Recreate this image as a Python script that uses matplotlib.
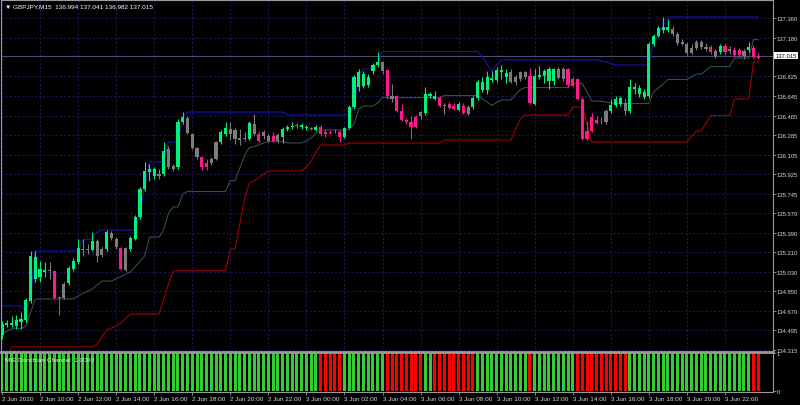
import matplotlib
matplotlib.use("Agg")
import matplotlib.pyplot as plt
import matplotlib.transforms as mtransforms
import numpy as np

# GBPJPY M15, 2 Jun 2020 08:00 .. 3 Jun 2020 23:45 (160 bars)
opens = [
    134.450, 134.541, 134.541, 134.532, 134.568, 134.587, 134.762, 134.964, 134.983, 135.028,
    135.047, 135.038, 134.799, 134.789, 134.927, 135.056, 135.120, 135.239, 135.230, 135.230,
    135.313, 135.184, 135.239, 135.386, 135.331, 135.248, 135.047, 135.239, 135.331, 135.534,
    135.790, 135.946, 135.909, 135.928, 135.928, 136.158, 136.002, 135.993, 136.405, 136.442,
    136.295, 136.167, 136.084, 136.029, 136.029, 136.066, 136.221, 136.295, 136.341, 136.332,
    136.258, 136.249, 136.249, 136.387, 136.295, 136.277, 136.277, 136.277, 136.231, 136.268,
    136.341, 136.359, 136.368, 136.359, 136.350, 136.341, 136.332, 136.359, 136.313, 136.313,
    136.313, 136.313, 136.268, 136.350, 136.543, 136.727, 136.736, 136.745, 136.874, 136.929,
    136.956, 136.883, 136.644, 136.644, 136.506, 136.424, 136.405, 136.451, 136.460, 136.488,
    136.644, 136.617, 136.626, 136.562, 136.571, 136.552, 136.516, 136.552, 136.479, 136.543,
    136.626, 136.700, 136.700, 136.791, 136.791, 136.865, 136.819, 136.865, 136.773, 136.800,
    136.819, 136.828, 136.571, 136.819, 136.828, 136.782, 136.782, 136.892, 136.800, 136.892,
    136.800, 136.800, 136.617, 136.323, 136.451, 136.424, 136.405, 136.405, 136.506, 136.562,
    136.571, 136.580, 136.506, 136.709, 136.663, 136.635, 136.644, 137.122, 137.195, 137.250,
    137.250, 137.260, 137.214, 137.140, 137.122, 137.039, 137.085, 137.140, 137.094, 137.094,
    137.058, 137.048, 137.104, 137.058, 137.067, 137.067, 137.012, 137.067, 137.085, 136.994,
]
highs = [
    134.578, 134.587, 134.624, 134.633, 134.660, 134.789, 135.221, 135.221, 135.129, 135.120,
    135.120, 135.047, 134.808, 134.936, 135.083, 135.156, 135.331, 135.331, 135.285, 135.395,
    135.331, 135.258, 135.414, 135.405, 135.349, 135.258, 135.258, 135.359, 135.552, 135.809,
    136.038, 136.020, 135.993, 135.974, 136.221, 136.185, 136.020, 136.433, 136.497, 136.460,
    136.304, 136.176, 136.093, 136.066, 136.084, 136.231, 136.332, 136.405, 136.405, 136.350,
    136.341, 136.313, 136.415, 136.479, 136.323, 136.332, 136.295, 136.313, 136.304, 136.359,
    136.378, 136.405, 136.396, 136.396, 136.378, 136.359, 136.378, 136.378, 136.341, 136.332,
    136.341, 136.332, 136.359, 136.562, 136.837, 136.892, 136.874, 136.846, 136.947, 137.048,
    136.965, 136.892, 136.754, 136.653, 136.571, 136.442, 136.460, 136.470, 136.506, 136.727,
    136.681, 136.690, 136.644, 136.580, 136.589, 136.580, 136.589, 136.580, 136.562, 136.644,
    136.791, 136.819, 136.874, 136.874, 136.910, 136.929, 136.892, 136.892, 136.837, 136.874,
    136.874, 136.901, 136.892, 136.920, 136.892, 136.910, 136.901, 136.910, 136.910, 136.901,
    136.819, 136.810, 136.635, 136.415, 136.488, 136.460, 136.451, 136.525, 136.617, 136.644,
    136.644, 136.617, 136.800, 136.764, 136.745, 136.709, 137.140, 137.214, 137.287, 137.370,
    137.351, 137.287, 137.232, 137.168, 137.140, 137.122, 137.159, 137.159, 137.131, 137.113,
    137.076, 137.122, 137.122, 137.104, 137.094, 137.085, 137.076, 137.140, 137.113, 137.041,
]
lows = [
    134.413, 134.523, 134.523, 134.505, 134.505, 134.568, 134.743, 134.936, 134.936, 134.983,
    134.964, 134.780, 134.633, 134.780, 134.909, 135.038, 135.101, 135.175, 135.193, 135.221,
    135.120, 135.166, 135.221, 135.322, 135.239, 135.047, 135.038, 135.221, 135.322, 135.515,
    135.772, 135.864, 135.882, 135.882, 135.909, 135.974, 135.956, 135.974, 136.387, 136.295,
    136.158, 136.066, 135.965, 135.965, 136.011, 136.057, 136.203, 136.277, 136.240, 136.203,
    136.194, 136.231, 136.240, 136.277, 136.221, 136.249, 136.221, 136.221, 136.212, 136.212,
    136.323, 136.341, 136.350, 136.341, 136.332, 136.332, 136.323, 136.277, 136.268, 136.295,
    136.304, 136.221, 136.258, 136.341, 136.525, 136.690, 136.718, 136.727, 136.846, 136.910,
    136.846, 136.617, 136.589, 136.497, 136.415, 136.387, 136.249, 136.350, 136.433, 136.470,
    136.626, 136.608, 136.543, 136.479, 136.525, 136.516, 136.506, 136.479, 136.470, 136.525,
    136.608, 136.681, 136.663, 136.773, 136.773, 136.800, 136.764, 136.764, 136.745, 136.782,
    136.800, 136.571, 136.562, 136.800, 136.764, 136.709, 136.745, 136.800, 136.782, 136.727,
    136.727, 136.608, 136.240, 136.240, 136.313, 136.387, 136.387, 136.387, 136.488, 136.543,
    136.552, 136.470, 136.488, 136.663, 136.635, 136.617, 136.626, 137.104, 137.186, 137.223,
    137.232, 137.195, 137.113, 137.113, 137.021, 137.030, 137.067, 137.076, 137.058, 137.030,
    136.993, 137.030, 137.021, 137.030, 137.003, 137.003, 136.984, 137.048, 136.993, 136.982,
]
closes = [
    134.550, 134.559, 134.559, 134.587, 134.596, 134.771, 135.175, 135.166, 135.056, 135.047,
    135.038, 134.789, 134.789, 134.918, 135.065, 135.129, 135.248, 135.230, 135.239, 135.313,
    135.175, 135.239, 135.395, 135.340, 135.258, 135.056, 135.248, 135.340, 135.534, 135.790,
    135.956, 135.974, 135.974, 135.909, 136.140, 135.993, 135.974, 136.405, 136.451, 136.304,
    136.167, 136.084, 135.993, 135.993, 136.066, 136.221, 136.313, 136.350, 136.295, 136.249,
    136.240, 136.251, 136.396, 136.295, 136.231, 136.313, 136.231, 136.231, 136.286, 136.341,
    136.359, 136.368, 136.370, 136.378, 136.359, 136.343, 136.359, 136.295, 136.295, 136.304,
    136.311, 136.268, 136.350, 136.543, 136.819, 136.865, 136.846, 136.819, 136.929, 136.956,
    136.874, 136.644, 136.617, 136.506, 136.424, 136.405, 136.359, 136.359, 136.497, 136.663,
    136.663, 136.644, 136.552, 136.552, 136.534, 136.525, 136.571, 136.488, 136.543, 136.626,
    136.773, 136.773, 136.819, 136.810, 136.883, 136.883, 136.855, 136.773, 136.819, 136.865,
    136.865, 136.580, 136.828, 136.837, 136.874, 136.892, 136.892, 136.810, 136.892, 136.745,
    136.736, 136.617, 136.249, 136.249, 136.323, 136.396, 136.403, 136.506, 136.562, 136.617,
    136.626, 136.506, 136.727, 136.727, 136.718, 136.681, 137.122, 137.195, 137.269, 137.278,
    137.278, 137.214, 137.131, 137.122, 137.039, 137.085, 137.140, 137.094, 137.076, 137.048,
    137.012, 137.104, 137.048, 137.076, 137.021, 137.021, 137.058, 137.094, 137.003, 137.015,
]
# candle state from the indicator: u = up, d = down, n = neutral
candle_state = (
    "uuuuuuuuuu" "nddnuuunnu" "nnunndnuuu" "uuununnuun" "nnddnnuunn"
    "nnundnndnu" "uunuunuddd" "nduuuuuuuu" "ndndddddnu" "uudnddudnu"
    "uuuuuuunnn" "nduuuuunnd" "ddddddnnuu" "unuuuuuuuu" "unnnnnnnnd"
    "nudnddnudd"
)
# MIE Donchian Channel histogram: G = up, R = down (both drawn at 1)
hist_state = (
    "GGGGGGGGGGGGGGGGGGGG" "GGGGGGGGGGGGGGGGGGGG" "GGGGGGGGGGGGGGGGGGGG"
    "GGGGGGGRRRRRGGGGGGGG" "GRRRRRRRRGGRRRRRRRRR" "GGGGGGGGGGGRGGGGGGGG"
    "GRRRRRRRRRRRGGGGGGGG" "GGGGGGGGGGGGGGGGGGRR"
)

# Donchian channel lines (bar index, price) where the line changes
upper_idx = [0, 4, 5, 6, 7, 16, 17, 19, 20, 21, 28, 29, 30, 31, 34, 35, 37, 38, 39, 59, 60,
             73, 74, 75, 76, 78, 79, 80, 100, 101, 102, 103, 104, 105, 125, 127, 129, 136,
             137, 138, 139, 140, 159]
upper_val = [134.716, 134.716, 134.670, 134.789, 135.221, 135.221, 135.322, 135.331, 135.395,
             135.414, 135.414, 135.552, 135.809, 136.038, 136.038, 136.221, 136.221, 136.451,
             136.497, 136.497, 136.470, 136.470, 136.562, 136.837, 136.892, 136.892, 136.947,
             137.053, 137.053, 137.002, 136.938, 136.874, 136.929, 136.975, 136.975, 136.956,
             136.929, 136.929, 137.140, 137.214, 137.287, 137.370, 137.370]
lower_idx = [1, 2, 19, 20, 22, 24, 25, 27, 33, 34, 35, 36, 47, 48, 49, 50, 51, 52, 53, 55, 56,
             63, 64, 65, 66, 67, 72, 73, 92, 93, 107, 108, 109, 110, 119, 120, 122, 124, 144,
             146, 147, 149, 153, 154, 157, 158, 159]
lower_val = [134.248, 134.340, 134.340, 134.367, 134.495, 134.532, 134.560, 134.642, 134.642,
             134.780, 134.918, 135.038, 135.038, 135.239, 135.239, 135.469, 135.698, 135.845,
             135.864, 135.928, 135.956, 135.956, 135.993, 136.048, 136.130, 136.194, 136.194,
             136.212, 136.212, 136.240, 136.240, 136.341, 136.433, 136.470, 136.470, 136.543,
             136.543, 136.222, 136.222, 136.323, 136.323, 136.465, 136.465, 136.617, 136.617,
             136.956, 136.956]
middle_idx = [0, 2, 3, 4, 5, 7, 15, 16, 19, 21, 23, 27, 30, 31, 33, 34, 35, 36, 37, 38, 39, 47,
              48, 49, 50, 51, 52, 53, 55, 56, 59, 60, 63, 64, 65, 66, 67, 72, 73, 74, 75, 76,
              78, 79, 80, 92, 93, 100, 101, 102, 103, 104, 105, 107, 108, 109, 110, 119, 120,
              122, 124, 125, 127, 129, 136, 137, 138, 139, 140, 144, 146, 147, 149, 153, 154,
              157, 158, 159]
middle_val = [134.459, 134.505, 134.514, 134.505, 134.532, 134.780, 134.780, 134.808, 134.872,
              134.945, 134.945, 135.028, 135.175, 135.349, 135.349, 135.414, 135.570, 135.625,
              135.625, 135.744, 135.767, 135.767, 135.868, 135.868, 135.983, 136.098, 136.171,
              136.180, 136.213, 136.226, 136.226, 136.213, 136.213, 136.231, 136.259, 136.300,
              136.332, 136.332, 136.341, 136.387, 136.525, 136.552, 136.552, 136.580, 136.630,
              136.630, 136.649, 136.649, 136.621, 136.589, 136.557, 136.585, 136.608, 136.608,
              136.658, 136.704, 136.722, 136.722, 136.759, 136.759, 136.598, 136.598, 136.589,
              136.575, 136.575, 136.681, 136.718, 136.754, 136.796, 136.796, 136.846, 136.846,
              136.915, 136.915, 136.993, 136.993, 137.163, 137.163]

price_ticks = [137.360, 137.180, 136.825, 136.645, 136.465, 136.285, 136.105, 135.925, 135.745,
               135.570, 135.390, 135.210, 135.030, 134.850, 134.670, 134.495, 134.315]
time_idx = [0, 8, 16, 24, 32, 40, 48, 56, 64, 72, 80, 88, 96, 104, 112, 120, 128, 136, 144, 152]
time_labels = ["2 Jun 2020", "2 Jun 10:00", "2 Jun 12:00", "2 Jun 14:00", "2 Jun 16:00",
               "2 Jun 18:00", "2 Jun 20:00", "2 Jun 22:00", "3 Jun 00:00", "3 Jun 02:00",
               "3 Jun 04:00", "3 Jun 06:00", "3 Jun 08:00", "3 Jun 10:00", "3 Jun 12:00",
               "3 Jun 14:00", "3 Jun 16:00", "3 Jun 18:00", "3 Jun 20:00", "3 Jun 22:00"]
bid = 137.015
title = "\u25bc GBPJPY,M15  136.994 137.041 136.982 137.015"

plt.rcParams['font.family'] = ['Liberation Sans', 'DejaVu Sans']
FS = 4.6
FS_PRICE = 4.2
TXT = '#d8d8d8'
FRAME = '#9a9a9a'
GRID = '#1f1f60'

fig = plt.figure(figsize=(8, 4.06), dpi=100, facecolor='black')
ax = fig.add_axes([1 / 800, 53 / 406, 772 / 800, 352 / 406], facecolor='black')
axi = fig.add_axes([1 / 800, 13 / 406, 772 / 800, 40 / 406], facecolor='black')

n = len(opens)
x = np.arange(n)
o = np.array(opens)
h = np.array(highs)
l = np.array(lows)
c = np.array(closes)
cmap = {'u': '#00f07c', 'd': '#ff1a8c', 'n': '#7c7c7c'}
cols = [cmap[s] for s in candle_state]

# grid
for t in price_ticks:
    ax.axhline(t, color=GRID, lw=0.6, ls=(0, (2.5, 2.5)), zorder=0)
for t in time_idx:
    ax.axvline(t, color=GRID, lw=0.6, ls=(0, (2.5, 2.5)), zorder=0)

# bid line
ax.axhline(bid, color='#4c4c74', lw=0.8, zorder=1)

# channel
ax.plot(upper_idx, upper_val, color='#1414b4', lw=0.8, zorder=2)
ax.plot(middle_idx, middle_val, color='#2f4f4f', lw=0.8, zorder=2)
ax.plot(lower_idx, lower_val, color='#a00000', lw=0.8, zorder=2)

# candles
ax.vlines(x, l, h, colors=cols, lw=0.8, zorder=3)
body_lo = np.minimum(o, c)
body_h = np.maximum(np.abs(c - o), 0.006)
ax.bar(x, body_h, bottom=body_lo, width=0.66, color=cols, linewidth=0, zorder=4)

ax.set_xlim(-0.21, 162.1)
ax.set_ylim(134.293, 137.526)
ax.set_yticks(price_ticks)
ax.set_yticklabels(["%.3f" % t for t in price_ticks])
ax.set_xticks([])
ax.yaxis.tick_right()
ax.tick_params(axis='y', length=2, width=0.6, color=FRAME, labelcolor=TXT,
               labelsize=FS_PRICE, pad=0.6)
for s in ax.spines.values():
    s.set_color(FRAME)
    s.set_linewidth(0.8)

trans = mtransforms.blended_transform_factory(ax.transAxes, ax.transData)
ax.text(1.0035, bid, "%.3f" % bid, transform=trans, ha='left', va='center',
        fontsize=FS_PRICE, color='black', zorder=6,
        bbox=dict(facecolor='white', edgecolor='none', pad=0.9))
fig.text(5 / 800, 1 - 7 / 406, title, color='white', fontsize=FS, va='center', ha='left')

# indicator panel
hcols = ['#32cd32' if s == 'G' else '#ff0000' for s in hist_state]
axi.bar(x, np.ones(n), width=0.63, color=hcols, linewidth=0)
axi.set_xlim(-0.21, 162.1)
axi.set_ylim(-0.03, 1.03)
axi.yaxis.tick_right()
axi.set_yticks([1, 0])
axi.set_yticklabels(['1', '0'])
axi.set_xticks(time_idx)
axi.set_xticklabels(time_labels, ha='left')
axi.tick_params(axis='both', length=2, width=0.6, color=FRAME, labelcolor=TXT,
                labelsize=FS, pad=1.2)
axi.tick_params(axis='y', labelsize=FS_PRICE, pad=0.6)
for s in axi.spines.values():
    s.set_color(FRAME)
    s.set_linewidth(0.8)
axi.spines['top'].set_linewidth(2.0)
axi.text(0.005, 0.8, "MIE Donchian Channel  1.0000", transform=axi.transAxes,
         color='#e8e8e8', fontsize=FS, va='center', ha='left')

fig.savefig("out.png", dpi=100, facecolor='black')
